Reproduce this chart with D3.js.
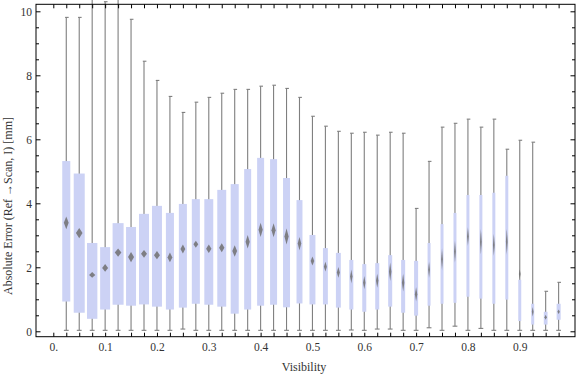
<!DOCTYPE html>
<html>
<head>
<meta charset="utf-8">
<script src="https://cdn.jsdelivr.net/npm/d3@7"></script>
<style>
  html, body { margin: 0; padding: 0; background: #fff; }
  svg { display: block; }
</style>
</head>
<body>
<svg id="chart" width="576" height="377"></svg>
<script>
// ---- data ----
const visibility = [0.025, 0.05, 0.075, 0.1, 0.125, 0.15, 0.175, 0.2, 0.225, 0.25,
  0.275, 0.3, 0.325, 0.35, 0.375, 0.4, 0.425, 0.45, 0.475, 0.5,
  0.525, 0.55, 0.575, 0.6, 0.625, 0.65, 0.675, 0.7, 0.725, 0.75,
  0.775, 0.8, 0.825, 0.85, 0.875, 0.9, 0.925, 0.95, 0.975];
const whiskerHigh = [9.81, 9.81, 10.7, 10.3, 10.7, 9.75, 8.44, 7.84, 7.34, 6.84,
  7.16, 7.31, 7.44, 7.56, 7.56, 7.66, 7.69, 7.59, 7.31, 6.72,
  6.41, 6.25, 6.19, 6.22, 6.13, 6.22, 6.19, 3.84, 5.31, 6.38,
  6.50, 6.63, 6.38, 6.63, 5.69, 5.97, 5.91, 1.25, 1.53];
const quartile3 = [5.32, 4.93, 2.76, 2.63, 3.38, 3.26, 3.67, 3.92, 3.70, 3.98,
  4.13, 4.13, 4.42, 4.60, 5.07, 5.42, 5.38, 4.79, 4.10, 3.01,
  2.60, 2.45, 2.23, 2.10, 2.13, 2.38, 2.23, 2.20, 2.76, 3.35,
  3.70, 4.26, 4.26, 4.33, 4.86, 1.61, 0.86, 0.61, 0.86];
const medians = [3.39, 3.07, 1.76, 1.98, 2.46, 2.32, 2.42, 2.38, 2.31, 2.57,
  2.72, 2.58, 2.61, 2.51, 2.80, 3.17, 3.16, 2.96, 2.74, 2.20,
  2.02, 1.84, 1.71, 1.52, 1.58, 1.86, 1.52, 1.16, 1.92, 2.25,
  2.49, 2.96, 2.80, 2.70, 2.80, 1.79, 0.61, 0.44, 0.61];
const quartile1 = [0.93, 0.58, 0.39, 0.68, 0.83, 0.80, 0.84, 0.77, 0.68, 0.74,
  0.86, 0.83, 0.77, 0.55, 0.68, 0.80, 0.83, 0.75, 0.87, 0.84,
  0.84, 0.74, 0.68, 0.61, 0.68, 0.77, 0.58, 0.49, 0.80, 0.86,
  0.89, 1.08, 1.02, 0.86, 0.99, 0.32, 0.21, 0.21, 0.36];
const whiskerLow = [0.03, 0.03, 0.03, 0.03, 0.03, 0.03, 0.03, 0.03, 0.03, 0.07,
  0.03, 0.03, 0.03, 0.03, 0.03, 0.03, 0.03, 0.03, 0.03, 0.03,
  0.03, 0.03, 0.04, 0.03, 0.07, 0.07, 0.03, 0.03, 0.11, 0.03,
  0.16, 0.03, 0.09, 0.03, 0.03, 0.03, 0.03, 0.03, 0.03];
// half-spread of the median marker (value units)
const medianSpread = [0.20, 0.16, 0.09, 0.12, 0.13, 0.16, 0.12, 0.13, 0.15, 0.14,
  0.11, 0.13, 0.14, 0.18, 0.21, 0.22, 0.22, 0.25, 0.21, 0.14,
  0.15, 0.17, 0.21, 0.21, 0.22, 0.29, 0.28, 0.22, 0.25, 0.34,
  0.34, 0.29, 0.40, 0.34, 0.40, 0.14, 0.15, 0.08, 0.07];
// relative box width (fraction of bin)
const boxWeight = [0.62, 0.85, 0.80, 0.77, 0.85, 0.77, 0.77, 0.77, 0.62, 0.62,
  0.62, 0.69, 0.69, 0.62, 0.54, 0.54, 0.54, 0.54, 0.46, 0.46,
  0.38, 0.38, 0.31, 0.31, 0.31, 0.31, 0.31, 0.31, 0.23, 0.23,
  0.23, 0.23, 0.23, 0.23, 0.23, 0.23, 0.23, 0.29, 0.31];
const xTickLabelValues = [0, 0.1, 0.2, 0.3, 0.4, 0.5, 0.6, 0.7, 0.8, 0.9];
const xTickLabels = ["0.", "0.1", "0.2", "0.3", "0.4", "0.5", "0.6", "0.7", "0.8", "0.9"];
const yTickValues = [0, 2, 4, 6, 8, 10];
const yTickLabels = ["0", "2", "4", "6", "8", "10"];
const xTitle = "Visibility";
const yTitle = "Absolute Error (Ref \u2192Scan, I) [mm]";

// ---- layout ----
const FONT = "'Liberation Serif', 'Times New Roman', 'DejaVu Serif', serif";
const svg = d3.select("#chart");
const pLeft = 36, pRight = 575, pTop = 4.3, pBottom = 336.7;
const x = d3.scaleLinear().domain([-0.0334, 1.0066]).range([pLeft, pRight]);
const y = d3.scaleLinear().domain([-0.169, 10.219]).range([pBottom, pTop]);
const bin = x(0.025) - x(0);
const wScale = d3.scaleLinear().domain([0, 1]).range([0, bin]);

const data = visibility.map((v, i) => ({
  v, hi: whiskerHigh[i], q3: quartile3[i], med: medians[i], q1: quartile1[i],
  lo: whiskerLow[i], spread: medianSpread[i], w: wScale(boxWeight[i])
}));

const defs = svg.append("defs");
defs.append("filter").attr("id", "soft").attr("x", "-100%").attr("y", "-50%")
  .attr("width", "300%").attr("height", "200%")
  .append("feGaussianBlur").attr("stdDeviation", 0.7);

// whiskers
const wg = svg.append("g").attr("stroke", "#7f7f7f").attr("stroke-width", 1.1).attr("fill", "none");
wg.selectAll("line.stem").data(data).join("line").attr("class", "stem")
  .attr("x1", d => x(d.v)).attr("x2", d => x(d.v))
  .attr("y1", d => y(d.lo)).attr("y2", d => y(d.hi));
wg.selectAll("line.capTop").data(data).join("line").attr("class", "capTop")
  .attr("x1", d => x(d.v) - 1.2).attr("x2", d => x(d.v) + 2.4)
  .attr("y1", d => y(d.hi)).attr("y2", d => y(d.hi));
wg.selectAll("line.capBot").data(data).join("line").attr("class", "capBot")
  .attr("x1", d => x(d.v) - 2.4).attr("x2", d => x(d.v) + 2.4)
  .attr("y1", d => y(d.lo)).attr("y2", d => y(d.lo));

// boxes
svg.append("g").selectAll("rect").data(data).join("rect")
  .attr("x", d => x(d.v) - d.w / 2).attr("width", d => d.w)
  .attr("y", d => y(d.q3)).attr("height", d => y(d.q1) - y(d.q3))
  .attr("fill", "#ccd2f5");

// median markers
svg.append("g").attr("filter", "url(#soft)").selectAll("path").data(data).join("path")
  .attr("d", d => {
    const cx = x(d.v), cy = y(d.med), hw = d.w * 0.3, t = y(d.med + d.spread), b = y(d.med - d.spread);
    return `M${cx},${t}L${cx + hw},${cy}L${cx},${b}L${cx - hw},${cy}Z`;
  })
  .attr("fill", "#707070").attr("fill-opacity", 0.85);

// frame
svg.append("rect").attr("x", pLeft).attr("y", pTop).attr("width", pRight - pLeft).attr("height", pBottom - pTop)
  .attr("fill", "none").attr("stroke", "#000").attr("stroke-width", 1);

const xTickVals = [0].concat(visibility);
const yMinor = d3.range(0.5, 10.01, 0.5).filter(v => !yTickValues.includes(v));

function styleAxis(g) {
  g.attr("font-family", FONT);
  g.select(".domain").remove();
  g.selectAll(".tick line").attr("stroke", "#000").attr("stroke-width", 1);
}
const labelFor = d => { const i = xTickLabelValues.findIndex(v => Math.abs(v - d) < 1e-6); return i >= 0 ? xTickLabels[i] : ""; };

// bottom axis
const gb = svg.append("g").attr("transform", `translate(0,${pBottom})`)
  .call(d3.axisBottom(x).tickValues(xTickVals).tickSize(-4).tickFormat(labelFor));
styleAxis(gb);
gb.selectAll("text").attr("y", 14.5).attr("dy", null)
  .style("font-size", "11.5px").style("font-family", FONT).attr("fill", "#333");

// top axis
const gt = svg.append("g").attr("transform", `translate(0,${pTop})`)
  .call(d3.axisTop(x).tickValues(xTickVals).tickSize(-4).tickFormat(""));
styleAxis(gt);

// left axis major + minor
const gl = svg.append("g").attr("transform", `translate(${pLeft},0)`)
  .call(d3.axisLeft(y).tickValues(yTickValues).tickSize(-4.5)
    .tickFormat(d => yTickLabels[yTickValues.indexOf(d)]));
styleAxis(gl);
gl.selectAll("text").attr("x", -4).attr("dy", "0.33em")
  .style("font-size", "11.5px").style("font-family", FONT).attr("fill", "#333");
const glm = svg.append("g").attr("transform", `translate(${pLeft},0)`)
  .call(d3.axisLeft(y).tickValues(yMinor).tickSize(-3).tickFormat(""));
styleAxis(glm);

// right axis
const gr = svg.append("g").attr("transform", `translate(${pRight},0)`)
  .call(d3.axisRight(y).tickValues(yTickValues).tickSize(-4.5).tickFormat(""));
styleAxis(gr);
const grm = svg.append("g").attr("transform", `translate(${pRight},0)`)
  .call(d3.axisRight(y).tickValues(yMinor).tickSize(-3).tickFormat(""));
styleAxis(grm);

// titles
svg.append("text").attr("x", 304).attr("y", 371).attr("text-anchor", "middle")
  .style("font-size", "12px").style("font-family", FONT).attr("fill", "#333").text(xTitle);
svg.append("text").attr("transform", "translate(12,206) rotate(-90)").attr("text-anchor", "middle")
  .style("font-size", "12px").style("font-family", FONT).attr("fill", "#333").text(yTitle);
</script>
</body>
</html>
